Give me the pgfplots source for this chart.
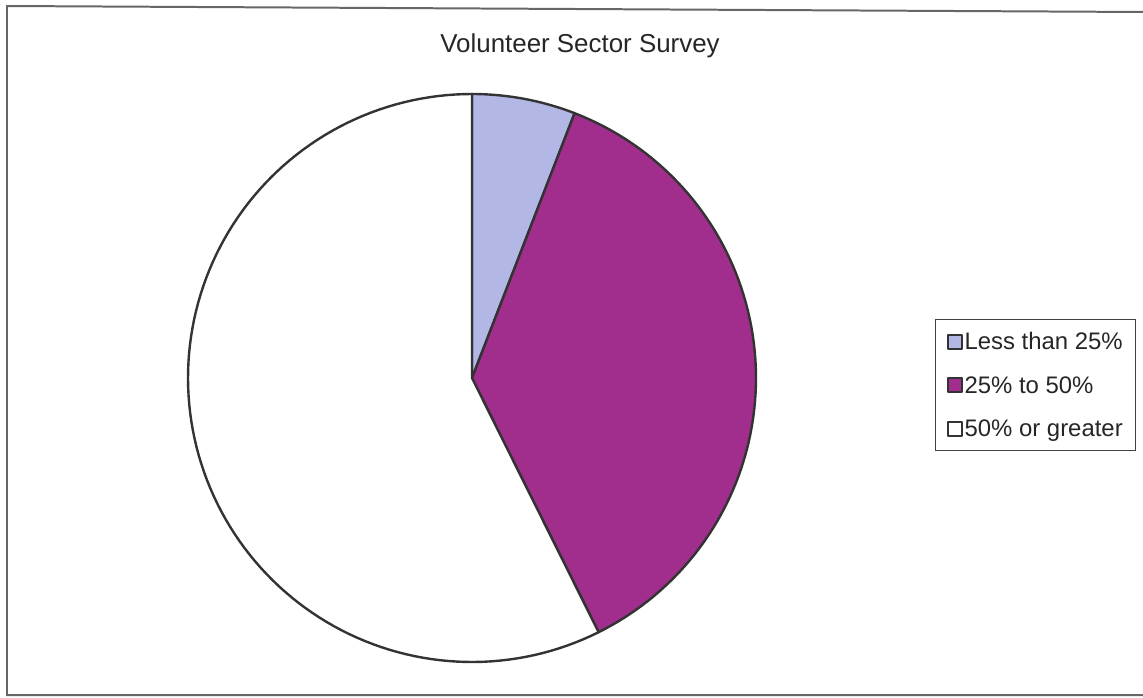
\documentclass[border=0pt]{standalone}
\usepackage{pgfplots}
\pgfplotsset{compat=1.18}
\usepackage{pgfplotstable}
\usepackage{fontspec}
\setmainfont{Liberation Sans}
\definecolor{lav}{HTML}{B3B7E6}
\definecolor{mag}{HTML}{A12D8C}
\definecolor{edge}{HTML}{333333}
\pgfplotstableread{
cat count
1 4
2 25
3 39
}\piedata
\pgfplotstablegetelem{0}{count}\of\piedata \let\va\pgfplotsretval
\pgfplotstablegetelem{1}{count}\of\piedata \let\vb\pgfplotsretval
\pgfplotstablegetelem{2}{count}\of\piedata \let\vc\pgfplotsretval
\pgfmathsetmacro\tot{\va+\vb+\vc}
\pgfmathsetmacro\aA{360*\va/\tot}
\pgfmathsetmacro\aB{360*(\va+\vb)/\tot}
\begin{document}
\begin{tikzpicture}
\begin{axis}[
  name=pie,
  scale only axis, width=1143bp, height=698bp,
  xmin=0, xmax=1143, ymin=0, ymax=698, y dir=reverse,
  hide axis, clip=true,
  legend style={at={(axis cs:935,319)}, anchor=north west, draw=black!75, line width=1.2pt,
    font=\fontsize{24}{28}\selectfont, text=black!85, inner xsep=11bp, inner ysep=11bp,
    row sep=21bp},
  legend cell align=left,
  legend image code/.code={\draw[#1, draw=black!80, line width=2pt] (0bp,-7bp) rectangle (14bp,7bp);},
]
\addplot[fill=lav, draw=edge, line width=2.4pt, domain=0:\aA, samples=40, line join=round]
  ({472+284*sin(x)},{378-284*cos(x)}) -- (axis cs:472,378) -- cycle;
\addlegendentry{Less than 25\%}
\addplot[fill=mag, draw=edge, line width=2.4pt, domain=\aA:\aB, samples=80, line join=round]
  ({472+284*sin(x)},{378-284*cos(x)}) -- (axis cs:472,378) -- cycle;
\addlegendentry{25\% to 50\%}
\addplot[fill=white, draw=edge, line width=2.4pt, domain=\aB:360, samples=120, line join=round]
  ({472+284*sin(x)},{378-284*cos(x)}) -- (axis cs:472,378) -- cycle;
\addlegendentry{50\% or greater}
\draw[black!60, line width=2pt] (axis cs:1143,12) -- (axis cs:7,6) -- (axis cs:7,695) -- (axis cs:1143,695);
\node[font=\fontsize{26}{30}\selectfont, text=black!85, anchor=base] at (axis cs:580,53) {Volunteer Sector Survey};
\end{axis}
\pgfresetboundingbox
\path (pie.south west) rectangle (pie.north east);
\end{tikzpicture}
\end{document}
